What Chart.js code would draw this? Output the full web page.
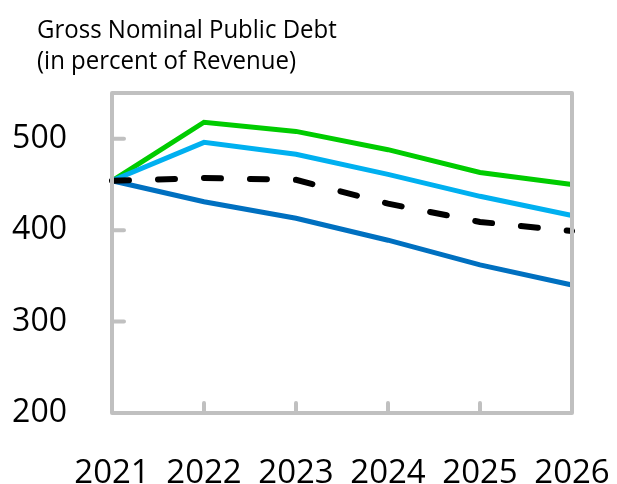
<!DOCTYPE html>
<html>
<head>
<meta charset="utf-8">
<script src="https://cdn.jsdelivr.net/npm/chart.js@4"></script>
<style>
  body { margin: 0; background: #fff; }
  #wrap { width: 617px; height: 484px; }
</style>
</head>
<body>
<div id="wrap"><canvas id="debtChart" width="617" height="484"></canvas></div>
<script>
const years = ['2021', '2022', '2023', '2024', '2025', '2026'];
const titleLines = ['Gross Nominal Public Debt', '(in percent of Revenue)'];
const baseline = [454, 457, 455, 429, 409, 399];
const highScenario = [454, 518, 508, 488, 463, 450];
const midScenario = [454, 496, 483, 461, 437, 416];
const lowScenario = [454, 431, 413, 389, 362, 340];
const yTicks = [200, 300, 400, 500];

const FONT = '"Open Sans", "Noto Sans", sans-serif';
const AXIS_GREY = '#c0c0c0';

// title text + plot box with inward tick marks
const frame = {
    id: 'frame',
    beforeDraw(chart) {
        const ctx = chart.ctx;
        ctx.save();
        ctx.fillStyle = '#000';
        ctx.font = '25px ' + FONT;
        ctx.textBaseline = 'alphabetic';
        // squeeze a little, the original face is narrower
        ctx.translate(37, 0);
        ctx.scale(0.96, 1);
        titleLines.forEach((t, i) => ctx.fillText(t, 0, 38 + i * 31));
        ctx.restore();
    },
    afterDraw(chart) {
        const ctx = chart.ctx;
        const a = chart.chartArea;
        const x = chart.scales.x, y = chart.scales.y;
        ctx.save();
        ctx.strokeStyle = AXIS_GREY;
        ctx.lineWidth = 4;
        ctx.lineJoin = 'round';
        ctx.lineCap = 'round';
        ctx.beginPath();
        yTicks.slice(1).forEach(v => {
            const py = y.getPixelForValue(v);
            ctx.moveTo(a.left, py);
            ctx.lineTo(a.left + 12, py);
        });
        years.slice(1, -1).forEach((lab, i) => {
            const px = x.getPixelForValue(i + 1);
            ctx.moveTo(px, a.bottom);
            ctx.lineTo(px, a.bottom - 10);
        });
        ctx.stroke();
        ctx.strokeRect(a.left, a.top, a.right - a.left, a.bottom - a.top);
        ctx.restore();
    }
};

new Chart(document.getElementById('debtChart'), {
    type: 'line',
    data: {
        labels: years,
        datasets: [
            { data: baseline, borderColor: '#000000', borderWidth: 6, borderDash: [17, 29], borderCapStyle: 'round' },
            { data: lowScenario, borderColor: '#0070c0', borderWidth: 5 },
            { data: midScenario, borderColor: '#00b0f0', borderWidth: 5 },
            { data: highScenario, borderColor: '#00cc00', borderWidth: 5 }
        ]
    },
    options: {
        responsive: false,
        animation: false,
        events: [],
        layout: { padding: { top: 93, right: 45, left: 0, bottom: 0 } },
        elements: { point: { radius: 0 }, line: { tension: 0, fill: false } },
        plugins: { legend: { display: false }, tooltip: { enabled: false }, title: { display: false } },
        scales: {
            x: {
                offset: false,
                grid: { display: false },
                border: { display: false },
                ticks: { color: '#000', padding: 33, maxRotation: 0, autoSkip: false, font: { family: FONT, size: 33 } },
                afterFit(s) {
                    s.height = 71;
                    s.paddingLeft = 0;
                    s.paddingRight = 0;
                }
            },
            y: {
                min: 200,
                max: 550,
                afterBuildTicks(s) { s.ticks = yTicks.map(v => ({ value: v })); },
                grid: { display: false },
                border: { display: false },
                ticks: { color: '#000', padding: 37, font: { family: FONT, size: 32 } },
                afterFit(s) { s.width = 112; }
            }
        }
    },
    plugins: [frame]
});
</script>
</body>
</html>
